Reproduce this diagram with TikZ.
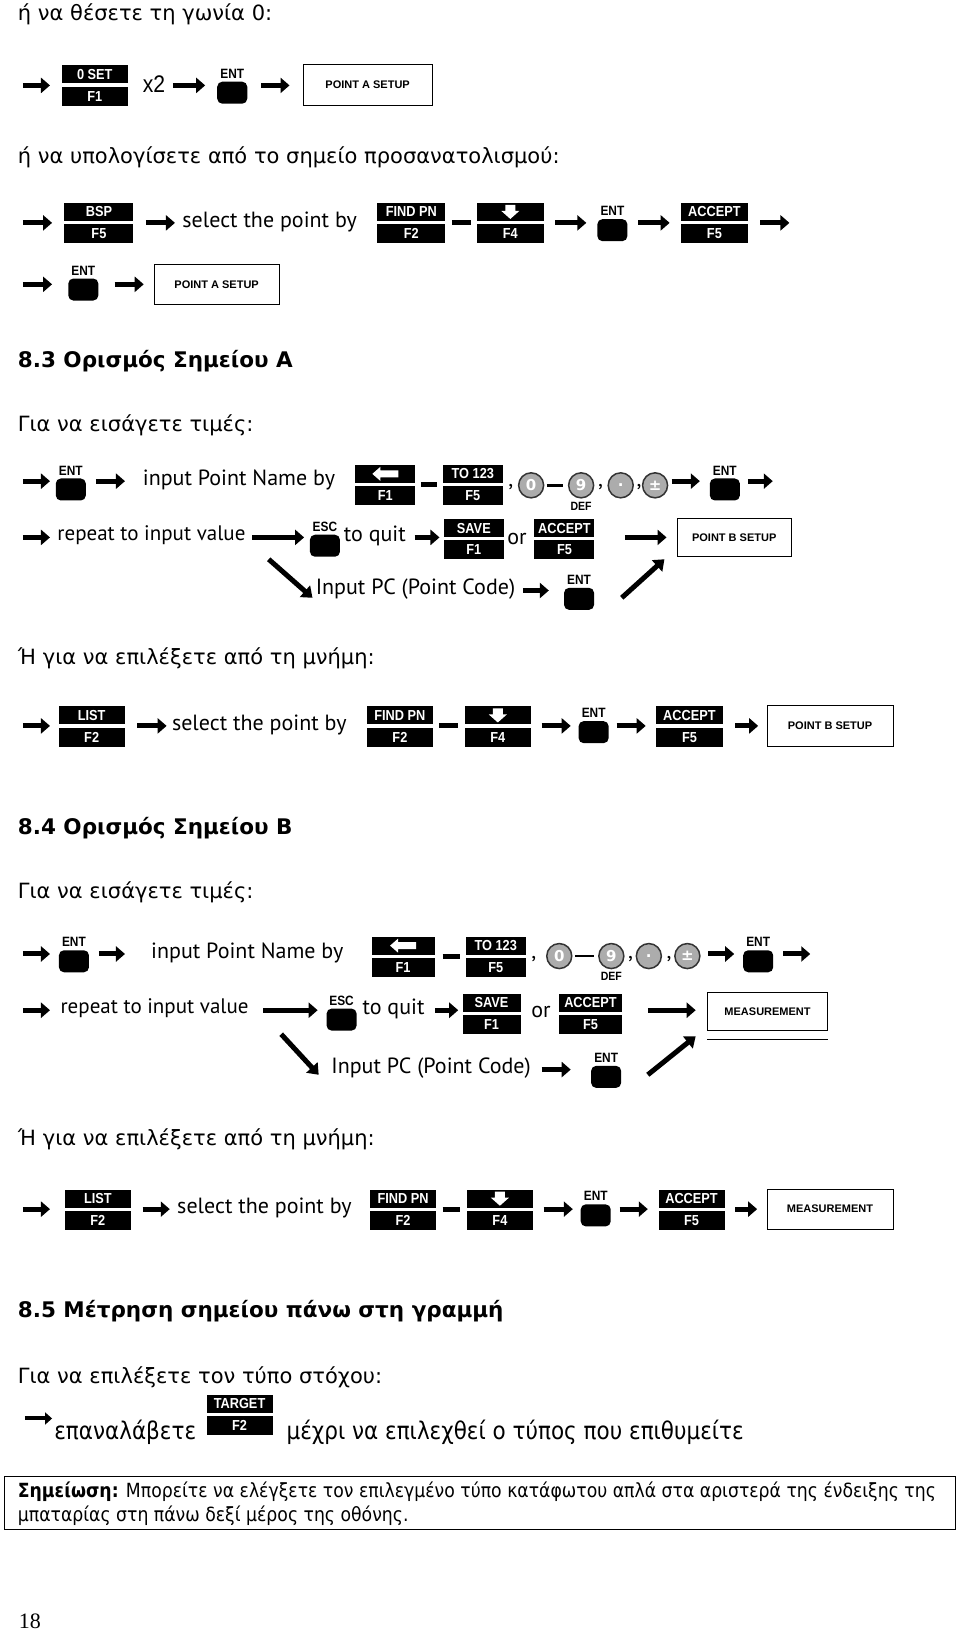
\documentclass[tikz,border=0pt]{standalone}
\usepackage{fontspec}
\setmainfont{DejaVu Sans}
\newfontfamily\diagfont{PT Sans}
\newfontfamily\keyfont{Liberation Sans}[FakeStretch=0.88]
\newfontfamily\boxfont{Liberation Sans}
\newfontfamily\notefont{DejaVu Sans}[FakeStretch=0.885]
\newfontfamily\pagefont{Liberation Serif}
\usetikzlibrary{arrows.meta,positioning}

\tikzset{
  blockarrow/.style={line width=5pt,-{Triangle[length=9pt,width=15pt]}},
  smallarrow/.style={line width=4pt,-{Triangle[length=7pt,width=12pt]}},
  slantarrow/.style={line width=5pt,-{Triangle[length=10pt,width=15pt]}},
  dashbar/.style={line width=5pt},
  thinbar/.style={line width=2.5pt},
  keytop/.style={fill=black,text=white,font=\keyfont\bfseries\fontsize{14.5}{14.5}\selectfont,minimum height=18pt,inner sep=0pt},
  keybot/.style={keytop,minimum height=19pt},
  entkey/.style={fill=black,rounded corners=5pt,minimum width=30pt,minimum height=22pt,inner sep=0pt},
  keylabel/.style={font=\keyfont\bfseries\fontsize{13.5}{13.5}\selectfont,inner sep=0pt},
  deflabel/.style={font=\keyfont\bfseries\fontsize{12}{12}\selectfont,inner sep=0pt},
  numkey/.style={circle,fill=gray!65,draw=black!80,line width=1.5pt,minimum size=25pt,inner sep=0pt,text=white,font=\bfseries\fontsize{15}{15}\selectfont},
  screen/.style={draw,line width=0.8pt,font=\boxfont\bfseries\fontsize{11}{11}\selectfont},
  body/.style={anchor=west,inner sep=0pt,font=\fontsize{21}{21}\selectfont},
  head/.style={anchor=west,inner sep=0pt,font=\bfseries\fontsize{21.5}{21.5}\selectfont},
  diag/.style={anchor=west,inner sep=0pt,font=\diagfont\fontsize{22}{22}\selectfont},
  diagsmall/.style={diag,font=\diagfont\fontsize{21}{21}\selectfont},
  notebig/.style={anchor=west,inner sep=0pt,font=\notefont\fontsize{24.3}{24.3}\selectfont},
  note/.style={anchor=west,inner sep=0pt,font=\notefont\fontsize{19.5}{19.5}\selectfont},
}

\newcommand\fkey[6]{%
  \node[keytop,minimum width=#4] (#1) at (#2,#3) {#5};
  \node[keybot,minimum width=#4,anchor=north] (#1-f) at ([yshift=-3pt]#1.south) {#6};}
\newcommand\ent[4]{%
  \node[entkey] (#1) at (#2,#3) {};
  \node[keylabel,above=3pt of #1] (#1-l) {#4};}
\newcommand\leftico[1]{%
  \fill[white] ([xshift=-13pt]#1.center) -- ++(8pt,7pt) -- ++(0,-3.5pt) -- ++(18pt,0) -- ++(0,-7pt) -- ++(-18pt,0) -- ++(0,-3.5pt) -- cycle;}
\newcommand\downico[1]{%
  \fill[white] ([yshift=-7pt]#1.center) -- ++(9pt,8pt) -- ++(-4pt,0) -- ++(0,6pt) -- ++(-10pt,0) -- ++(0,-6pt) -- ++(-4pt,0) -- cycle;}

\begin{document}
\begin{tikzpicture}[x=1.0412pt,y=-1.0412pt]
\useasboundingbox (0,0) rectangle (922,1568);

\node[body] (t1) at (17,14) {ή να θέσετε τη γωνία 0:};
\draw[blockarrow] (22,82) -- (48,82);
\fkey{zset}{91}{71.5}{66pt}{0 SET}{F1}
\node[diag,font=\keyfont\fontsize{24}{24}\selectfont] (x2) at (137,81) {x2};
\draw[blockarrow] (166,82) -- (197,82);
\ent{e1}{223}{89}{ENT}
\draw[blockarrow] (251,82) -- (278,82);
\node[screen,minimum width=129pt,minimum height=41pt] (pa1) at (353,81.5) {POINT A SETUP};

\node[body] (t2) at (17,151) {ή να υπολογίσετε από το σημείο προσανατολισμού:};
\draw[blockarrow] (22,214) -- (50,214);
\fkey{bsp}{95}{203.5}{69pt}{BSP}{F5}
\draw[blockarrow] (140,214) -- (168,214);
\node[diag] (sel1) at (175,213) {select the point by};
\fkey{fpn1}{395}{203.5}{68pt}{FIND PN}{F2}
\draw[dashbar] (434,214) -- (452,214);
\fkey{dn1}{490}{203.5}{67pt}{}{F4}
\downico{dn1}
\draw[blockarrow] (533,214) -- (563,214);
\ent{e2}{588}{221}{ENT}
\draw[blockarrow] (613,214) -- (643,214);
\fkey{acc1}{686}{203.5}{67pt}{ACCEPT}{F5}
\draw[blockarrow] (730,214) -- (758,214);
\draw[blockarrow] (22,273) -- (50,273);
\ent{e3}{80}{278}{ENT}
\draw[blockarrow] (110,273) -- (138,273);
\node[screen,minimum width=125pt,minimum height=40pt] (pa2) at (208,273.5) {POINT A SETUP};

\node[head] (h83) at (17,347) {8.3 Ορισμός Σημείου Α};
\node[body] (t3) at (17,408) {Για να εισάγετε τιμές:};
\draw[blockarrow] (22,462) -- (48,462);
\ent{e4}{68}{470}{ENT}
\draw[blockarrow] (92,462) -- (120,462);
\node[diag] (inp1) at (137,461) {input Point Name by};
\fkey{bk1}{370}{455}{60pt}{}{F1}
\leftico{bk1}
\draw[dashbar] (404,465) -- (420,465);
\fkey{to1}{454}{455}{60pt}{TO 123}{F5}
\node[diag] (ca1) at (488,468) {,};
\node[numkey] (n0a) at (510,466) {0};
\draw[thinbar] (525,466) -- (541,466);
\node[numkey] (n9a) at (558,466) {9};
\node[deflabel,below=3pt of n9a] (defa) {DEF};
\node[diag] (ca2) at (574,468) {,};
\node[numkey] (npa) at (596,466) {.};
\node[diag] (ca3) at (611,468) {,};
\node[numkey] (nsa) at (629,466) {±};
\draw[blockarrow] (645,462) -- (672,462);
\ent{e5}{696}{470}{ENT}
\draw[blockarrow] (718,462) -- (742,462);
\draw[blockarrow] (22,516) -- (48,516);
\node[diagsmall] (rep1) at (55,514) {repeat to input value};
\draw[blockarrow] (242,516) -- (292,516);
\ent{esc1}{312}{524}{ESC}
\node[diag] (q1) at (330,515) {to quit};
\draw[blockarrow] (398,516) -- (422,516);
\fkey{sv1}{455}{507}{60pt}{SAVE}{F1}
\node[diag] (or1) at (487,518) {or};
\fkey{ac2}{542}{507}{60pt}{ACCEPT}{F5}
\draw[blockarrow] (600,516) -- (640,516);
\node[screen,minimum width=114pt,minimum height=38pt] (pb1) at (705,516) {POINT B SETUP};
\draw[slantarrow] (258,537) -- (300,574);
\node[diag] (pc1) at (303,566) {Input PC (Point Code)};
\draw[blockarrow] (502,567) -- (527,567);
\ent{e6}{556}{575}{ENT}
\draw[slantarrow] (597,574) -- (638,537);

\node[body] (t4) at (17,632) {Ή για να επιλέξετε από τη μνήμη:};
\draw[blockarrow] (22,697) -- (48,697);
\fkey{ls1}{88}{687}{66pt}{LIST}{F2}
\draw[blockarrow] (132,697) -- (160,697);
\node[diag] (sel2) at (165,696) {select the point by};
\fkey{fpn2}{384}{687}{66pt}{FIND PN}{F2}
\draw[dashbar] (422,697) -- (440,697);
\fkey{dn2}{478}{687}{66pt}{}{F4}
\downico{dn2}
\draw[blockarrow] (520,697) -- (548,697);
\ent{e7}{570}{703}{ENT}
\draw[blockarrow] (592,697) -- (620,697);
\fkey{ac3}{662}{687}{67pt}{ACCEPT}{F5}
\draw[blockarrow] (706,697) -- (728,697);
\node[screen,minimum width=126pt,minimum height=40pt] (pb2) at (797,697) {POINT B SETUP};

\node[head] (h84) at (17,795) {8.4 Ορισμός Σημείου Β};
\node[body] (t5) at (17,857) {Για να εισάγετε τιμές:};
\draw[blockarrow] (22,916) -- (48,916);
\ent{e8}{71}{923}{ENT}
\draw[blockarrow] (95,916) -- (120,916);
\node[diag] (inp2) at (145,915) {input Point Name by};
\fkey{bk2}{387}{908}{63pt}{}{F1}
\leftico{bk2}
\draw[dashbar] (425,918) -- (442,918);
\fkey{to2}{476}{908}{60pt}{TO 123}{F5}
\node[diag] (cb1) at (510,921) {,};
\node[numkey] (n0b) at (537,918) {0};
\draw[thinbar] (552,918) -- (570,918);
\node[numkey] (n9b) at (587,918) {9};
\node[deflabel,below=3pt of n9b] (defb) {DEF};
\node[diag] (cb2) at (603,921) {,};
\node[numkey] (npb) at (623,918) {.};
\node[diag] (cb3) at (640,921) {,};
\node[numkey] (nsb) at (660,918) {±};
\draw[blockarrow] (680,916) -- (705,916);
\ent{e9}{728}{923}{ENT}
\draw[blockarrow] (752,916) -- (778,916);
\draw[blockarrow] (22,970) -- (48,970);
\node[diagsmall] (rep2) at (58,968) {repeat to input value};
\draw[blockarrow] (253,970) -- (305,970);
\ent{esc2}{328}{979}{ESC}
\node[diag] (q2) at (348,969) {to quit};
\draw[blockarrow] (418,970) -- (440,970);
\fkey{sv2}{472}{963}{58pt}{SAVE}{F1}
\node[diag] (or2) at (510,972) {or};
\fkey{ac4}{567}{963}{63pt}{ACCEPT}{F5}
\draw[blockarrow] (622,970) -- (668,970);
\node[screen,minimum width=120pt,minimum height=38pt] (ms1) at (737,971) {MEASUREMENT};
\draw[line width=1pt] ([yshift=-9pt]ms1.south west) -- ([yshift=-9pt]ms1.south east);
\draw[slantarrow] (270,993) -- (306,1032);
\node[diag] (pc2) at (318,1026) {Input PC (Point Code)};
\draw[blockarrow] (520,1027) -- (548,1027);
\ent{e10}{582}{1034}{ENT}
\draw[slantarrow] (622,1032) -- (668,995);

\node[body] (t6) at (17,1094) {Ή για να επιλέξετε από τη μνήμη:};
\draw[blockarrow] (22,1161) -- (48,1161);
\fkey{ls2}{94}{1151}{66pt}{LIST}{F2}
\draw[blockarrow] (137,1161) -- (163,1161);
\node[diag] (sel3) at (170,1160) {select the point by};
\fkey{fpn3}{387}{1151}{66pt}{FIND PN}{F2}
\draw[dashbar] (425,1161) -- (442,1161);
\fkey{dn3}{480}{1151}{66pt}{}{F4}
\downico{dn3}
\draw[blockarrow] (522,1161) -- (550,1161);
\ent{e11}{572}{1167}{ENT}
\draw[blockarrow] (595,1161) -- (622,1161);
\fkey{ac5}{664}{1151}{66pt}{ACCEPT}{F5}
\draw[blockarrow] (706,1161) -- (727,1161);
\node[screen,minimum width=126pt,minimum height=40pt] (ms2) at (797,1161) {MEASUREMENT};

\node[head] (h85) at (17,1259) {8.5 Μέτρηση σημείου πάνω στη γραμμή};
\node[body] (t7) at (17,1322) {Για να επιλέξετε τον τύπο στόχου:};
\draw[smallarrow] (24,1362) -- (50,1362);
\node[notebig] (rp) at (52,1375) {επαναλάβετε};
\fkey{tg}{230}{1348}{66pt}{TARGET}{F2}
\node[notebig] (until) at (275,1375) {μέχρι να επιλεχθεί ο τύπος που επιθυμείτε};

\node[draw,line width=0.8pt,anchor=north west,minimum width=951pt,minimum height=53pt,inner sep=0pt] (notebox) at (4,1417) {};
\node[note] (n1) at (17,1432) {\textbf{Σημείωση:} Μπορείτε να ελέγξετε τον επιλεγμένο τύπο κατάφωτου απλά στα αριστερά της ένδειξης της};
\node[note] (n2) at (17,1455) {μπαταρίας στη πάνω δεξί μέρος της οθόνης.};

\node[anchor=west,inner sep=0pt,font=\pagefont\fontsize{22}{22}\selectfont] (pg) at (18,1557) {18};
\end{tikzpicture}
\end{document}
